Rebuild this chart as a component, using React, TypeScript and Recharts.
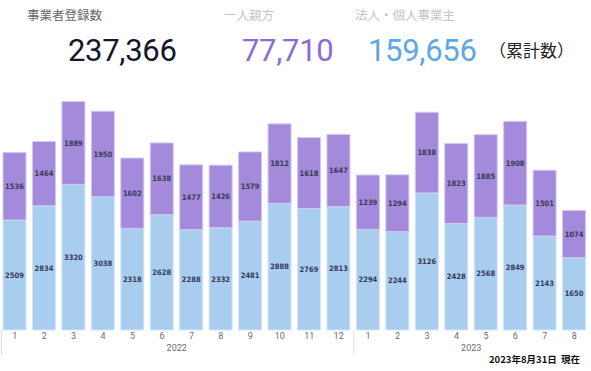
import { BarChart, Bar, XAxis, YAxis, LabelList } from "recharts";

// monthly registrations, Jan 2022 – Aug 2023
const months = ["1", "2", "3", "4", "5", "6", "7", "8", "9", "10", "11", "12", "1", "2", "3", "4", "5", "6", "7", "8"];
const corporate = [2509, 2834, 3320, 3038, 2318, 2628, 2288, 2332, 2481, 2888, 2769, 2813, 2294, 2244, 3126, 2428, 2568, 2849, 2143, 1650];
const soloMasters = [1536, 1464, 1889, 1950, 1602, 1638, 1477, 1426, 1579, 1812, 1618, 1647, 1239, 1294, 1838, 1823, 1885, 1908, 1501, 1074];

// year groups on a 0..20 month-slot scale
const yearTicks = [0, 6, 12, 16];
const yearLabels: Record<number, string> = { 0: "", 6: "2022", 12: "", 16: "2023" };
const separators = [0, 12];

const rows = months.map((m, i) => ({
  month: m,
  slot: i + 0.5,
  corporate: corporate[i],
  solo: soloMasters[i],
}));

const JP = '"Noto Sans CJK JP", "Noto Sans", sans-serif';
const NUM = 'Roboto, "Noto Sans", sans-serif';

function YearTick(props: any) {
  const { x, y, payload } = props;
  const v = payload.value as number;
  if (separators.includes(v)) {
    const lx = Math.max(x, 1) + 0.5;
    return <line x1={lx} x2={lx} y1={y - 14} y2={y + 11} stroke="#dddddd" strokeWidth={1} />;
  }
  return (
    <text x={x} y={y + 4} textAnchor="middle" dominantBaseline="central" fill="#6b6b6b" fontSize={9} fontFamily={NUM}>
      {yearLabels[v]}
    </text>
  );
}

export default function App() {
  const labelStyle = {
    fill: "#363a58",
    fontSize: 7.5,
    fontWeight: 700,
    fontFamily: '"DejaVu Sans Condensed", sans-serif',
  };

  return (
    <div style={{ position: "absolute", left: 0, top: 0, width: 591, height: 371, background: "#fff", overflow: "hidden" }}>
      {/* headline totals */}
      <div style={{ position: "absolute", left: 27, top: 8, fontSize: 12.5, lineHeight: "14px", color: "#666", fontFamily: JP }}>
        事業者登録数
      </div>
      <div style={{ position: "absolute", left: 224, top: 8, fontSize: 12.5, lineHeight: "14px", color: "#c4c4c4", fontFamily: JP }}>
        一人親方
      </div>
      <div style={{ position: "absolute", left: 355, top: 8, fontSize: 12.5, lineHeight: "14px", color: "#c4c4c4", fontFamily: JP }}>
        法人・個人事業主
      </div>

      <div style={{ position: "absolute", left: 68, top: 35, fontSize: 31, lineHeight: "31px", color: "#14162b", fontFamily: NUM, letterSpacing: -0.3 }}>
        237,366
      </div>
      <div style={{ position: "absolute", left: 242, top: 35, fontSize: 31, lineHeight: "31px", color: "#8c6bd6", fontFamily: NUM, letterSpacing: -0.3 }}>
        77,710
      </div>
      <div style={{ position: "absolute", left: 368, top: 35, fontSize: 31, lineHeight: "31px", color: "#5ca8e6", fontFamily: NUM, letterSpacing: -0.3 }}>
        159,656
      </div>
      <div style={{ position: "absolute", left: 489, top: 41, fontSize: 17, lineHeight: "18px", color: "#222", fontFamily: JP }}>
        （累計数）
      </div>

      <div style={{ position: "absolute", left: 0, top: 80 }}>
        <BarChart width={591} height={291} data={rows} margin={{ top: 0, right: 2, bottom: 0, left: 0 }}>
          <YAxis hide domain={[0, 5700]} />
          <XAxis
            xAxisId="month"
            dataKey="month"
            height={14}
            interval={0}
            tickSize={0}
            tickMargin={3}
            axisLine={false}
            tickLine={false}
            tick={{ fill: "#6b6b6b", fontSize: 9, fontFamily: NUM }}
          />
          <XAxis
            xAxisId="year"
            dataKey="slot"
            type="number"
            scale="linear"
            domain={[0, 20]}
            ticks={yearTicks}
            interval={0}
            allowDataOverflow
            height={27}
            tickSize={0}
            tickMargin={0}
            axisLine={false}
            tickLine={false}
            tick={<YearTick />}
          />
          <Bar dataKey="corporate" xAxisId="month" stackId="a" barSize={23} fill="#a9cdee" stroke="#d2e6f8" strokeWidth={1} isAnimationActive={false}>
            <LabelList dataKey="corporate" position="center" style={labelStyle} />
          </Bar>
          <Bar dataKey="solo" xAxisId="month" stackId="a" barSize={23} fill="#a48adb" stroke="#d4c6f2" strokeWidth={1} isAnimationActive={false}>
            <LabelList dataKey="solo" position="center" style={labelStyle} />
          </Bar>
        </BarChart>
      </div>

      <div style={{ position: "absolute", left: 489, top: 353, fontSize: 9.5, lineHeight: "12px", fontWeight: 700, color: "#111", fontFamily: JP, whiteSpace: "pre" }}>
        {"2023年8月31日  現在"}
      </div>
    </div>
  );
}
